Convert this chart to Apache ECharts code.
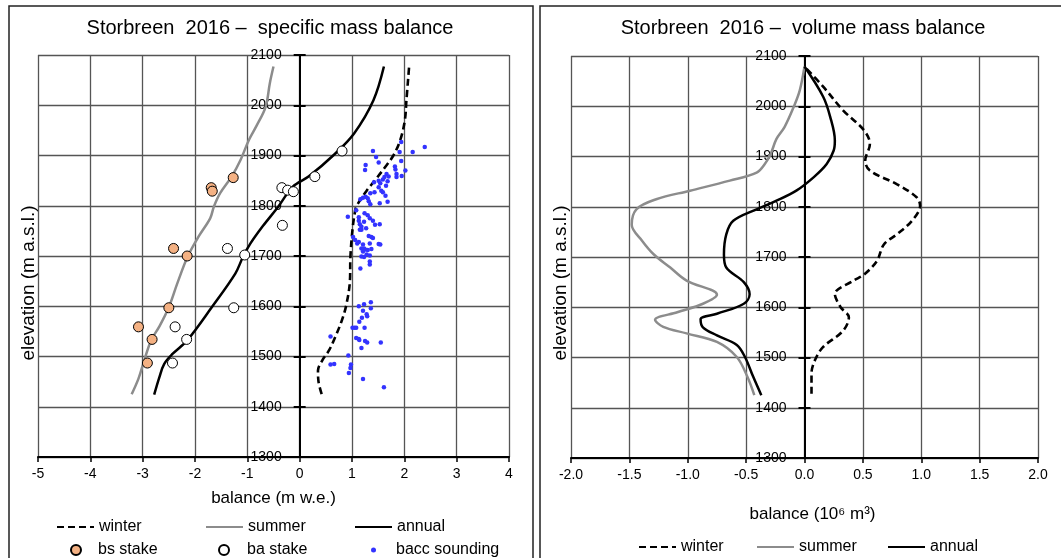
<!DOCTYPE html>
<html>
<head>
<meta charset="utf-8">
<script src="https://cdn.jsdelivr.net/npm/echarts@6/dist/echarts.min.js"></script>
<style>
html,body{margin:0;padding:0;background:#fff;}
#chart{width:1061px;height:558px;}
</style>
</head>
<body>
<div id="chart"></div>
<script>
// ---------- DATA ----------
// Specific mass balance (m w.e.) vs elevation (m a.s.l.)
const specWinterBal  = [0.42,0.36,0.35,0.43,0.56,0.68,0.80,0.89,0.96,0.97,1.01,1.06,1.09,1.28,1.44,1.62,1.79,1.92,2.01,2.04,2.09];
const specWinterElev = [1425,1450,1472,1492,1512,1539,1570,1602,1650,1699,1753,1790,1800,1830,1851,1875,1900,1930,1970,2010,2075];

const specSummerBal  = [-3.21,-3.08,-2.97,-2.84,-2.68,-2.50,-2.34,-2.14,-1.93,-1.71,-1.64,-1.52,-1.30,-1.13,-0.97,-0.82,-0.65,-0.57,-0.50];
const specSummerElev = [1425,1456,1492,1532,1560,1598,1645,1699,1739,1775,1798,1825,1858,1891,1931,1960,1997,2044,2077];

const specAnnualBal  = [-2.78,-2.68,-2.59,-2.43,-2.15,-1.68,-1.23,-1.08,-0.94,-0.70,-0.41,-0.13,0.17,0.64,1.04,1.41,1.61];
const specAnnualElev = [1424,1459,1485,1505,1532,1598,1665,1699,1725,1760,1798,1838,1858,1900,1944,2010,2077];

const bsStakeBal  = [-1.27,-1.69,-1.67,-2.41,-2.15,-2.50,-3.08,-2.82,-2.91];
const bsStakeElev = [1856,1836,1829,1715,1700,1597,1559,1534,1487];

const baStakeBal  = [-2.43,-2.16,-2.38,-1.26,-1.05,-1.38,-0.33,-0.34,-0.23,-0.12,0.29,0.81];
const baStakeElev = [1487,1534,1559,1597,1702,1715,1761,1836,1831,1828,1858,1909];

const baccBal = [
  1.40,1.46,1.51,1.26,1.25,1.91,1.94,2.16,2.39,1.94,1.82,1.83,2.02,1.85,1.95,1.85,1.66,1.62,1.70,1.59,
  1.68,1.51,1.54,1.42,1.65,1.51,1.56,1.43,1.59,1.35,
  1.16,1.21,1.26,1.30,1.32,1.35,1.53,1.64,1.68,0.92,1.08,1.13,1.13,1.15,1.18,1.23,1.24,1.30,1.34,1.40,
  1.44,1.53,1.27,1.18,1.15,1.02,1.06,1.10,1.13,1.21,1.32,1.37,1.40,1.34,1.51,1.54,1.18,1.23,1.25,1.30,
  1.37,1.21,1.28,1.34,1.18,1.23,1.34,1.34,1.16,
  1.13,1.23,1.36,1.36,1.21,1.28,1.29,1.19,1.14,1.01,1.05,1.08,1.24,0.59,1.08,1.13,1.14,1.25,1.29,1.55,
  1.18,0.93,0.59,0.66,0.98,0.97,0.94,1.21,1.61
];
const baccElev = [
  1909,1897,1886,1881,1871,1907,1927,1907,1917,1889,1878,1872,1870,1863,1859,1857,1863,1857,1858,1852,
  1849,1850,1845,1847,1840,1837,1830,1827,1827,1825,
  1813,1816,1818,1815,1809,1803,1805,1820,1808,1778,1791,1777,1770,1763,1758,1768,1785,1781,1775,1770,
  1762,1763,1755,1752,1752,1738,1732,1725,1728,1723,1740,1738,1736,1725,1724,1723,1715,1715,1713,1712,
  1714,1709,1703,1701,1699,1698,1689,1683,1675,
  1600,1604,1608,1596,1591,1584,1580,1577,1569,1557,1557,1557,1557,1540,1537,1535,1533,1531,1528,1528,
  1517,1502,1484,1485,1484,1477,1467,1455,1439
];

// Volume mass balance (10^6 m^3) vs elevation
const volWinterBal  = [0.06,0.06,0.09,0.16,0.33,0.38,0.31,0.26,0.42,0.51,0.62,0.68,0.79,0.92,0.99,0.96,0.79,0.56,0.52,0.56,0.51,0.33,0.16,0.0];
const volWinterElev = [1428,1468,1495,1521,1553,1580,1600,1626,1653,1665,1692,1725,1745,1772,1802,1819,1845,1872,1892,1925,1952,1992,2039,2079];

const volSummerBal  = [-0.43,-0.49,-0.58,-0.75,-1.01,-1.21,-1.28,-1.09,-0.87,-0.75,-1.01,-1.15,-1.29,-1.39,-1.48,-1.44,-1.27,-0.98,-0.64,-0.41,-0.34,-0.29,-0.24,-0.17,-0.09,-0.04,0.0];
const volSummerElev = [1425,1462,1501,1531,1548,1561,1575,1590,1607,1625,1653,1679,1705,1732,1764,1795,1815,1832,1852,1868,1885,1905,1935,1959,2000,2032,2079];

const volAnnualBal  = [-0.37,-0.44,-0.51,-0.58,-0.75,-0.87,-0.89,-0.75,-0.52,-0.47,-0.52,-0.67,-0.69,-0.67,-0.61,-0.41,-0.24,-0.07,0.08,0.19,0.25,0.26,0.22,0.16,0.0];
const volAnnualElev = [1425,1462,1501,1525,1544,1560,1576,1587,1607,1626,1650,1679,1705,1745,1772,1795,1812,1832,1859,1885,1912,1932,1979,2019,2079];

const titles = ['Storbreen  2016 \u2013  specific mass balance', 'Storbreen  2016 \u2013  volume mass balance'];
const xNames = ['balance (m w.e.)', 'balance (10\u2076 m\u00b3)'];
const yName = 'elevation (m a.s.l.)';

// ---------- CHART ----------
const zip = (a, b) => a.map((v, i) => [v, b[i]]);
const FONT = "'Liberation Sans', Arial, Helvetica, sans-serif";
const gridColor = '#555';

const grids = [
  { left: 38, top: 55, width: 471, height: 402, xmin: -5, xmax: 4 },
  { left: 571, top: 56, width: 467, height: 402, xmin: -2, xmax: 2 }
];
// pixel distance from the grid's left edge to x = 0 (places the y axis at zero)
const zeroOffset = g => g.width * (0 - g.xmin) / (g.xmax - g.xmin);

function xAxisCfg(gi, interval, name, fmt, nameGap, namePad) {
  const g = grids[gi];
  return {
    gridIndex: gi, type: 'value', min: g.xmin, max: g.xmax, interval: interval,
    name: name, nameLocation: 'middle', nameGap: nameGap,
    nameTextStyle: { fontFamily: FONT, fontSize: 17, color: '#000', padding: namePad },
    axisLine: { onZero: false, lineStyle: { color: '#000', width: 2 } },
    axisTick: { show: true, length: 5, lineStyle: { color: '#000', width: 1.5 } },
    axisLabel: { fontFamily: FONT, fontSize: 14, color: '#000', margin: 10, formatter: fmt },
    splitLine: { show: true, lineStyle: { color: gridColor, width: 1.3 } }
  };
}
// Two y axes per grid, both moved to x = 0: one carries labels + left half of the ticks,
// the other draws the right half of the ticks.
function yAxisCfg(gi, withLabels) {
  return {
    gridIndex: gi, type: 'value', min: 1300, max: 2100, interval: 100,
    position: 'left', offset: -zeroOffset(grids[gi]),
    axisLine: { show: true, onZero: false, lineStyle: { color: '#000', width: 2 } },
    axisTick: { show: true, inside: !withLabels, length: 6, lineStyle: { color: '#000', width: 2 } },
    axisLabel: { show: withLabels, fontFamily: FONT, fontSize: 14, color: '#000', margin: 18, formatter: v => String(v) },
    splitLine: { show: withLabels, lineStyle: { color: gridColor, width: 1.3 } }
  };
}

const lineStyles = {
  winter: { color: '#000', width: 2.6, type: [7, 4] },
  summer: { color: '#8c8c8c', width: 2.5, type: 'solid' },
  annual: { color: '#000', width: 2.5, type: 'solid' }
};
function lineSeries(name, xi, yi, data) {
  return {
    name: name, type: 'line', xAxisIndex: xi, yAxisIndex: yi, data: data,
    smooth: 0.35, symbol: 'none', showSymbol: false,
    lineStyle: lineStyles[name], itemStyle: { color: lineStyles[name].color },
    z: 3, silent: true, animation: false
  };
}

const lineLegend = { itemWidth: 37, itemHeight: 14, itemStyle: { opacity: 0, color: 'rgba(0,0,0,0)', borderWidth: 0 } };
const legendText = { fontFamily: FONT, fontSize: 16, color: '#000' };

const option = {
  backgroundColor: '#fff',
  animation: false,
  textStyle: { fontFamily: FONT },
  grid: grids.map(g => ({ left: g.left, top: g.top, width: g.width, height: g.height })),
  xAxis: [
    xAxisCfg(0, 1, xNames[0], null, 33, [0, 0, 0, 0]),
    xAxisCfg(1, 0.5, xNames[1], v => v.toFixed(1), 48, [0, 0, 0, 16])
  ],
  yAxis: [ yAxisCfg(0, true), yAxisCfg(0, false), yAxisCfg(1, true), yAxisCfg(1, false) ],
  legend: [
    Object.assign({ data: ['winter'], left: 56, top: 519 }, lineLegend),
    Object.assign({ data: ['summer'], left: 205, top: 519 }, lineLegend),
    Object.assign({ data: ['annual'], left: 354, top: 519 }, lineLegend),
    { data: ['bs stake'], left: 70, top: 542, itemWidth: 10, itemHeight: 10, textStyle: Object.assign({ padding: [0, 0, 0, 12] }, legendText) },
    { data: ['ba stake'], left: 218, top: 542, itemWidth: 10, itemHeight: 10, textStyle: Object.assign({ padding: [0, 0, 0, 13] }, legendText) },
    { data: ['bacc sounding'], left: 371, top: 542, itemWidth: 5, itemHeight: 5, textStyle: Object.assign({ padding: [0, 0, 0, 15] }, legendText) },
    Object.assign({ data: ['winter'], left: 638, top: 539 }, lineLegend),
    Object.assign({ data: ['summer'], left: 756, top: 539 }, lineLegend),
    Object.assign({ data: ['annual'], left: 887, top: 539 }, lineLegend)
  ].map(l => Object.assign({ padding: 0, selectedMode: false, textStyle: legendText }, l)),
  graphic: [
    { type: 'rect', shape: { x: 9, y: 6, width: 524, height: 600 }, style: { fill: 'none', stroke: '#222', lineWidth: 1.5 }, silent: true },
    { type: 'rect', shape: { x: 540, y: 6, width: 600, height: 600 }, style: { fill: 'none', stroke: '#222', lineWidth: 1.5 }, silent: true },
    { type: 'text', x: 270, y: 28, style: { text: titles[0], font: '20px ' + FONT, fill: '#000', align: 'center', verticalAlign: 'middle' } },
    { type: 'text', x: 803, y: 28, style: { text: titles[1], font: '20px ' + FONT, fill: '#000', align: 'center', verticalAlign: 'middle' } },
    { type: 'text', x: 29, y: 283, rotation: Math.PI / 2, style: { text: yName, font: '19px ' + FONT, fill: '#000', align: 'center', verticalAlign: 'middle' } },
    { type: 'text', x: 561, y: 283, rotation: Math.PI / 2, style: { text: yName, font: '19px ' + FONT, fill: '#000', align: 'center', verticalAlign: 'middle' } }
  ],
  series: [
    lineSeries('winter', 0, 0, zip(specWinterBal, specWinterElev)),
    lineSeries('summer', 0, 0, zip(specSummerBal, specSummerElev)),
    lineSeries('annual', 0, 0, zip(specAnnualBal, specAnnualElev)),
    { name: 'bs stake', type: 'scatter', xAxisIndex: 0, yAxisIndex: 0, data: zip(bsStakeBal, bsStakeElev),
      symbol: 'circle', symbolSize: 10, itemStyle: { color: '#F4B183', borderColor: '#000', borderWidth: 1, opacity: 1 }, z: 5 },
    { name: 'ba stake', type: 'scatter', xAxisIndex: 0, yAxisIndex: 0, data: zip(baStakeBal, baStakeElev),
      symbol: 'circle', symbolSize: 10, itemStyle: { color: '#fff', borderColor: '#000', borderWidth: 1, opacity: 1 }, z: 5 },
    { name: 'bacc sounding', type: 'scatter', xAxisIndex: 0, yAxisIndex: 0, data: zip(baccBal, baccElev),
      symbol: 'circle', symbolSize: 4.5, itemStyle: { color: '#3333ff', opacity: 1 }, z: 4 },
    lineSeries('winter', 1, 2, zip(volWinterBal, volWinterElev)),
    lineSeries('summer', 1, 2, zip(volSummerBal, volSummerElev)),
    lineSeries('annual', 1, 2, zip(volAnnualBal, volAnnualElev))
  ]
};

const chart = echarts.init(document.getElementById('chart'), null, { renderer: 'canvas' });
chart.setOption(option);
</script>
</body>
</html>
